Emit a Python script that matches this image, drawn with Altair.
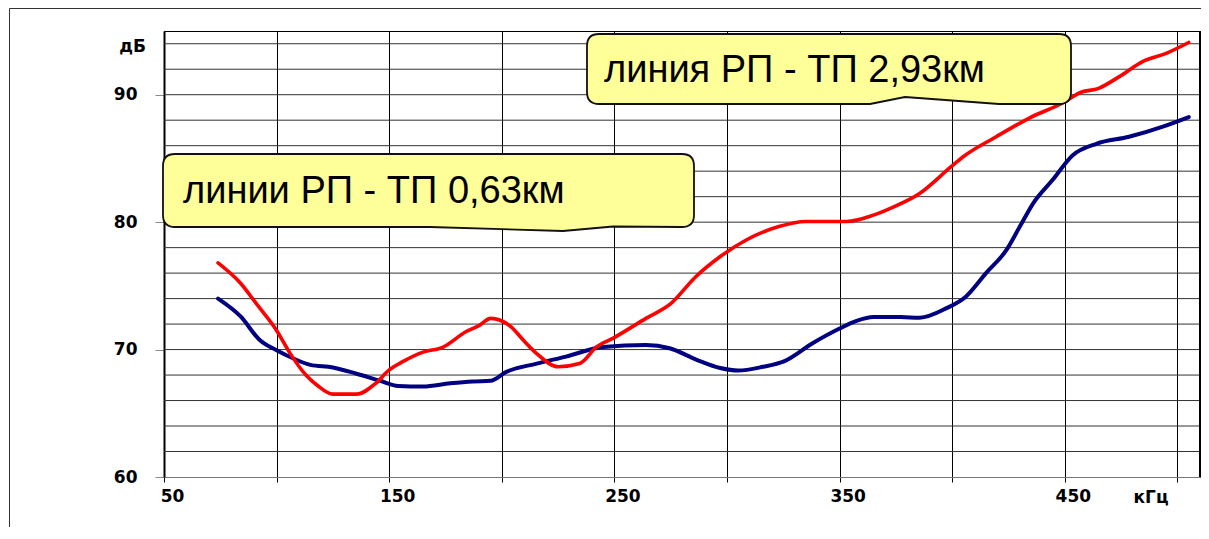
import altair as alt
import pandas as pd

# ---- data ----
red_khz = [74, 84, 91, 100, 106, 113, 118, 125, 135.5, 144, 150, 156, 165, 174, 184, 190, 195,
           204, 209.5, 216, 225, 234.5, 242, 249.5, 264, 275, 286, 297, 308.5, 323, 335, 353,
           365, 374, 385.5, 399.5, 405, 419.5, 434, 450, 456.5, 465, 474, 484.5, 495, 505]
red_db = [76.8, 75.2, 73.6, 71.5, 69.7, 68.0, 67.2, 66.5, 66.5, 67.35, 68.4, 69.05, 69.8, 70.2,
          71.4, 71.9, 72.45, 71.8, 70.75, 69.6, 68.65, 68.9, 70.2, 70.9, 72.45, 73.6, 75.7, 77.3,
          78.6, 79.65, 80.05, 80.05, 80.55, 81.2, 82.25, 84.35, 85.15, 86.7, 88.15, 89.45, 90.15,
          90.5, 91.4, 92.6, 93.25, 94.1]

blue_khz = [74, 84, 92.5, 100, 107.5, 115, 125, 135.5, 146, 154, 165, 177, 187, 195, 202, 215.5,
            228.5, 245, 264, 274.5, 286.5, 297, 305, 316, 325, 338, 350, 357.5, 365, 377, 385.5,
            397.5, 406, 415, 424, 430, 436, 444.5, 453.5, 464, 478.5, 493.5, 505]
blue_db = [74.0, 72.6, 70.75, 69.95, 69.3, 68.8, 68.6, 68.1, 67.55, 67.15, 67.1, 67.35, 67.5,
           67.55, 68.25, 68.9, 69.45, 70.2, 70.35, 70.1, 69.2, 68.55, 68.35, 68.65, 69.05, 70.5,
           71.65, 72.25, 72.55, 72.55, 72.5, 73.25, 74.15, 76.0, 77.8, 79.65, 81.5, 83.3, 85.25,
           86.15, 86.7, 87.5, 88.25]

x_ticks = [50, 100, 150, 200, 250, 300, 350, 400, 450, 500]
y_labels = [60, 70, 80, 90]
y_grid = [62, 64, 66, 68, 70, 72, 74, 76, 78, 80, 82, 84, 86, 88, 90, 92, 94]

callout_texts = ["линии РП - ТП 0,63км", "линия РП - ТП 2,93км"]
callout_text_x = [58.44, 245.37]
callout_text_y = [81.5, 91.0]
callout_center_x = [167.44, 345.27]
callout_center_y = [82.483, 92.018]

unit_y = "дБ"
unit_x = "кГц"

# ---- layout ----
W, H = 1036, 446
XDOM = [50, 510]
YDOM = [60, 95]


def callout_path(halfw, halfh, r, bottom_pts):
    s = halfw

    def f(v):
        return f"{v / s:.5f}"

    segs = [
        f"M{f(-halfw + r)},{f(-halfh)}",
        f"L{f(halfw - r)},{f(-halfh)}",
        f"Q{f(halfw)},{f(-halfh)} {f(halfw)},{f(-halfh + r)}",
        f"L{f(halfw)},{f(halfh - r)}",
        f"Q{f(halfw)},{f(halfh)} {f(halfw - r)},{f(halfh)}",
    ]
    for bx, by in bottom_pts:
        segs.append(f"L{f(bx)},{f(by)}")
    segs += [
        f"L{f(-halfw + r)},{f(halfh)}",
        f"Q{f(-halfw)},{f(halfh)} {f(-halfw)},{f(halfh - r)}",
        f"L{f(-halfw)},{f(-halfh + r)}",
        f"Q{f(-halfw)},{f(-halfh)} {f(-halfw + r)},{f(-halfh)}",
        "Z",
    ]
    return " ".join(segs)


shape1 = callout_path(265.5, 36.5, 12, [(184.5, 36.0), (134.5, 40.5), (1.5, 36.5)])
shape2 = callout_path(242, 35, 12, [(170, 35), (76, 28), (41, 35)])
size1 = (2 * 265.5) ** 2
size2 = (2 * 242) ** 2

lab_font = "DejaVu Sans"
lab_size = 17

x_scale = alt.Scale(domain=XDOM, nice=False, zero=False)
y_scale = alt.Scale(domain=YDOM, nice=False, zero=False)

x_axis = alt.Axis(
    values=x_ticks, grid=True, gridColor="#000000", gridWidth=1,
    tickColor="#000000", tickSize=5, tickWidth=1,
    domainColor="#777777", domainWidth=1,
    labelExpr="datum.value % 100 == 50 ? datum.label : ''",
    labelFont=lab_font, labelFontSize=lab_size, labelFontWeight="bold", labelColor="#000000",
    labelPadding=6, labelOffset=8, labelFlush=False, labelOverlap=False, title=None,
)
y_axis = alt.Axis(
    values=y_labels, grid=False,
    tickColor="#888888", tickSize=9, tickWidth=1,
    domainColor="#000000", domainWidth=2,
    labelFont=lab_font, labelFontSize=lab_size, labelFontWeight="bold", labelColor="#000000",
    labelPadding=18, labelFlush=False, labelOverlap=False, title=None,
)

X = alt.X("x:Q", scale=x_scale, axis=x_axis)
Y = alt.Y("y:Q", scale=y_scale, axis=y_axis)

grid_df = pd.DataFrame({"y": y_grid})
hgrid = alt.Chart(grid_df).mark_rule(color="#333333", strokeWidth=1).encode(y=Y)

blue_line = alt.Chart(pd.DataFrame({"x": blue_khz, "y": blue_db})).mark_line(
    color="#000080", strokeWidth=4, interpolate="monotone", strokeCap="round", strokeJoin="round"
).encode(x=X, y=Y)
red_line = alt.Chart(pd.DataFrame({"x": red_khz, "y": red_db})).mark_line(
    color="#FF0000", strokeWidth=3.6, interpolate="monotone", strokeCap="round", strokeJoin="round"
).encode(x=X, y=Y)

c1 = alt.Chart(pd.DataFrame({"x": [callout_center_x[0]], "y": [callout_center_y[0]]})).mark_point(
    shape=shape1, size=size1, filled=True, fill="#FFFF99", stroke="#111111",
    strokeWidth=1.8, opacity=1, fillOpacity=1, strokeOpacity=1
).encode(x=X, y=Y)
c2 = alt.Chart(pd.DataFrame({"x": [callout_center_x[1]], "y": [callout_center_y[1]]})).mark_point(
    shape=shape2, size=size2, filled=True, fill="#FFFF99", stroke="#111111",
    strokeWidth=1.8, opacity=1, fillOpacity=1, strokeOpacity=1
).encode(x=X, y=Y)

ctext = alt.Chart(pd.DataFrame({"x": callout_text_x, "y": callout_text_y, "t": callout_texts})).mark_text(
    align="left", baseline="alphabetic", font="Liberation Sans", fontSize=38, color="#000000"
).encode(x=X, y=Y, text="t:N")

right_border = alt.Chart(pd.DataFrame({"k": [0]})).mark_rule(color="#000000", strokeWidth=2).encode(
    x=alt.value(W), y=alt.value(0), y2=alt.value(H)
)
frame_top = alt.Chart(pd.DataFrame({"k": [0]})).mark_rule(color="#333333", strokeWidth=1).encode(
    x=alt.value(-154.5), x2=alt.value(1045), y=alt.value(-22.5)
)
frame_left = alt.Chart(pd.DataFrame({"k": [0]})).mark_rule(color="#333333", strokeWidth=1).encode(
    x=alt.value(-154.5), y=alt.value(-22.5), y2=alt.value(500)
)

unit_db = alt.Chart(pd.DataFrame({"t": [unit_y]})).mark_text(
    align="right", baseline="middle", font=lab_font, fontSize=lab_size, fontWeight="bold", color="#000000"
).encode(x=alt.value(-18), y=alt.value(16), text="t:N")
unit_khz = alt.Chart(pd.DataFrame({"t": [unit_x]})).mark_text(
    align="center", baseline="middle", font=lab_font, fontSize=lab_size, fontWeight="bold", color="#000000"
).encode(x=alt.value(987), y=alt.value(467), text="t:N")

chart = alt.layer(
    hgrid, blue_line, red_line, c1, c2, ctext, right_border, frame_top, frame_left, unit_db, unit_khz
).properties(
    width=W, height=H,
    autosize=alt.AutoSizeParams(type="none"),
    padding={"left": 156, "top": 23, "right": 1, "bottom": 50},
    background="#FFFFFF",
).configure_view(stroke="#000000", strokeWidth=1)

chart.save("out.html", embed_options={"renderer": "svg", "actions": False})
